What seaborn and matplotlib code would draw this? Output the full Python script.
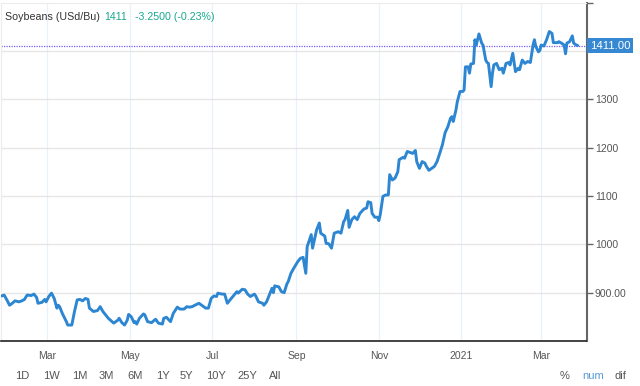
import matplotlib
matplotlib.use('Agg')
import matplotlib.dates as mdates
import matplotlib.pyplot as plt
import matplotlib.transforms as mtransforms
import pandas as pd
import seaborn as sns

# Soybeans daily closes
dates = [
    '2020-01-27', '2020-01-29', '2020-01-31', '2020-02-02', '2020-02-04', '2020-02-06', '2020-02-09', '2020-02-11',
    '2020-02-13', '2020-02-15', '2020-02-18', '2020-02-20', '2020-02-22', '2020-02-23', '2020-02-26', '2020-02-28',
    '2020-02-29', '2020-03-02', '2020-03-04', '2020-03-06', '2020-03-08', '2020-03-09', '2020-03-10', '2020-03-12',
    '2020-03-15', '2020-03-16', '2020-03-19', '2020-03-21', '2020-03-23', '2020-03-25', '2020-03-27', '2020-03-29',
    '2020-03-31', '2020-04-01', '2020-04-04', '2020-04-07', '2020-04-09', '2020-04-11', '2020-04-15', '2020-04-19',
    '2020-04-22', '2020-04-23', '2020-04-25', '2020-04-27', '2020-04-29', '2020-04-30', '2020-05-02', '2020-05-04',
    '2020-05-05', '2020-05-06', '2020-05-08', '2020-05-11', '2020-05-12', '2020-05-14', '2020-05-17', '2020-05-19',
    '2020-05-20', '2020-05-22', '2020-05-25', '2020-05-26', '2020-05-28', '2020-05-31', '2020-06-02', '2020-06-05',
    '2020-06-07', '2020-06-10', '2020-06-12', '2020-06-14', '2020-06-16', '2020-06-18', '2020-06-21', '2020-06-23',
    '2020-06-26', '2020-06-28', '2020-06-30', '2020-07-02', '2020-07-04', '2020-07-05', '2020-07-08', '2020-07-10',
    '2020-07-12', '2020-07-14', '2020-07-17', '2020-07-19', '2020-07-20', '2020-07-23', '2020-07-25', '2020-07-27',
    '2020-07-29', '2020-08-01', '2020-08-02', '2020-08-04', '2020-08-07', '2020-08-08', '2020-08-10', '2020-08-13',
    '2020-08-14', '2020-08-15', '2020-08-16', '2020-08-19', '2020-08-21', '2020-08-23', '2020-08-25', '2020-08-26',
    '2020-08-28', '2020-08-30', '2020-09-02', '2020-09-04', '2020-09-06', '2020-09-08', '2020-09-09', '2020-09-12',
    '2020-09-13', '2020-09-16', '2020-09-18', '2020-09-19', '2020-09-22', '2020-09-23', '2020-09-25', '2020-09-27',
    '2020-09-29', '2020-10-02', '2020-10-04', '2020-10-06', '2020-10-07', '2020-10-09', '2020-10-10', '2020-10-12',
    '2020-10-14', '2020-10-16', '2020-10-18', '2020-10-21', '2020-10-23', '2020-10-24', '2020-10-26', '2020-10-27',
    '2020-10-29', '2020-10-31', '2020-11-01', '2020-11-02', '2020-11-04', '2020-11-06', '2020-11-08', '2020-11-09',
    '2020-11-11', '2020-11-13', '2020-11-15', '2020-11-16', '2020-11-19', '2020-11-20', '2020-11-22', '2020-11-24',
    '2020-11-26', '2020-11-28', '2020-11-29', '2020-12-01', '2020-12-03', '2020-12-05', '2020-12-06', '2020-12-08',
    '2020-12-10', '2020-12-12', '2020-12-14', '2020-12-16', '2020-12-18', '2020-12-20', '2020-12-22', '2020-12-24',
    '2020-12-25', '2020-12-26', '2020-12-28', '2020-12-29', '2020-12-31', '2021-01-02', '2021-01-03', '2021-01-04',
    '2021-01-06', '2021-01-07', '2021-01-08', '2021-01-10', '2021-01-11', '2021-01-12', '2021-01-14', '2021-01-16',
    '2021-01-17', '2021-01-19', '2021-01-20', '2021-01-21', '2021-01-23', '2021-01-24', '2021-01-25', '2021-01-27',
    '2021-01-29', '2021-01-31', '2021-02-01', '2021-02-03', '2021-02-05', '2021-02-06', '2021-02-08', '2021-02-10',
    '2021-02-12', '2021-02-13', '2021-02-15', '2021-02-17', '2021-02-19', '2021-02-21', '2021-02-23', '2021-02-24',
    '2021-02-25', '2021-02-27', '2021-02-28', '2021-03-01', '2021-03-03', '2021-03-05', '2021-03-07', '2021-03-09',
    '2021-03-10', '2021-03-13', '2021-03-14', '2021-03-16', '2021-03-18', '2021-03-19', '2021-03-20', '2021-03-22',
    '2021-03-24', '2021-03-25', '2021-03-27', '2021-03-28',
]
prices = [
    893, 895, 885, 874, 878, 883, 881, 883,
    886, 895, 894, 897, 890, 878, 880, 886,
    881, 892, 899, 888, 868, 874, 871, 857,
    840, 833, 833, 861, 885, 886, 883, 888,
    886, 868, 861, 863, 871, 861, 847, 837,
    843, 847, 838, 833, 843, 855, 850, 838,
    840, 835, 847, 856, 854, 840, 838, 843,
    845, 837, 835, 847, 849, 840, 857, 870,
    866, 866, 871, 870, 871, 874, 878, 874,
    868, 868, 888, 893, 892, 899, 897, 897,
    878, 885, 895, 902, 899, 907, 906, 897,
    892, 897, 893, 881, 878, 874, 881, 902,
    909, 900, 914, 912, 902, 900, 918, 923,
    940, 950, 964, 971, 973, 940, 995, 1020,
    992, 1030, 1044, 1023, 1017, 1002, 1001, 992,
    1023, 1026, 1023, 1047, 1051, 1070, 1035, 1051,
    1057, 1051, 1064, 1073, 1075, 1088, 1086, 1064,
    1056, 1056, 1049, 1061, 1099, 1102, 1102, 1144,
    1133, 1137, 1150, 1175, 1180, 1178, 1192, 1190,
    1188, 1194, 1171, 1157, 1171, 1168, 1162, 1153,
    1157, 1161, 1171, 1188, 1206, 1231, 1243, 1261,
    1264, 1254, 1278, 1295, 1316, 1316, 1319, 1367,
    1367, 1354, 1373, 1374, 1423, 1412, 1435, 1416,
    1412, 1381, 1376, 1374, 1326, 1354, 1371, 1374,
    1361, 1364, 1354, 1374, 1376, 1371, 1395, 1357,
    1364, 1361, 1381, 1374, 1378, 1376, 1412, 1423,
    1409, 1398, 1401, 1412, 1410, 1423, 1440, 1436,
    1417, 1417, 1419, 1416, 1412, 1394, 1416, 1419,
    1431, 1416, 1412, 1411,
]

y_ticks = [900, 1000, 1100, 1200, 1300, 1400]
# the 1400 label sits behind the last-price badge
y_tick_labels = ['900.00', '1000', '1100', '1200', '1300', '']
last_price = 1411
title = 'Soybeans (USd/Bu)'
last_text = '1411'
change_text = '-3.2500 (-0.23%)'
range_buttons = ['1D', '1W', '1M', '3M', '6M', '1Y', '5Y', '10Y', '25Y', 'All']
button_x = [22.7, 51.7, 80, 106.7, 135, 162.7, 186.7, 216, 247.3, 275]

df = pd.DataFrame({'date': pd.to_datetime(dates), 'price': prices})

sns.set_theme(style='white')
plt.rcParams['font.family'] = ['Liberation Sans', 'DejaVu Sans']

W, H = 640, 386
fig = plt.figure(figsize=(W / 100, H / 100), dpi=100)
ax = fig.add_axes([1 / W, 45 / H, 585.5 / W, 338 / H])

sns.lineplot(data=df, x='date', y='price', ax=ax, color='#2d86d2', linewidth=2.1, zorder=3)

ax.set_xlim(pd.Timestamp('2020-01-26 16:00'), pd.Timestamp('2021-04-03 12:00'))
ax.set_ylim(800, 1499)
ax.set_xlabel('')
ax.set_ylabel('')

# x axis: every other month, year shown in January
ax.xaxis.set_major_locator(mdates.MonthLocator(bymonth=[1, 3, 5, 7, 9, 11]))


def month_fmt(x, pos=None):
    d = mdates.num2date(x)
    return str(d.year) if d.month == 1 else d.strftime('%b')


ax.xaxis.set_major_formatter(plt.FuncFormatter(month_fmt))
ax.tick_params(axis='x', length=0, pad=7, labelsize=7.5, labelcolor='#555555')

# y axis on the right
ax.yaxis.tick_right()
ax.set_yticks(y_ticks)
ax.set_yticklabels(y_tick_labels)
ax.set_yticks([1499], minor=True)
ax.tick_params(axis='y', which='both', length=4, width=1, color='#666666', pad=2,
               labelsize=7.5, labelcolor='#555555')

ax.grid(axis='y', color='#e6e6e6', linewidth=1)
ax.grid(axis='x', color='#e9f1f9', linewidth=0.9)

for side in ['left', 'top']:
    ax.spines[side].set_color('#ececec')
    ax.spines[side].set_linewidth(0.8)
ax.spines['right'].set_color('#666666')
ax.spines['right'].set_linewidth(1.5)
ax.spines['bottom'].set_color('#222222')
ax.spines['bottom'].set_linewidth(1.2)

# last price marker line and label
ax.axhline(last_price, color='#7a5cf0', linestyle=(0, (1, 1)), linewidth=0.9, zorder=2)
trans = mtransforms.blended_transform_factory(ax.transAxes, ax.transData)
ax.annotate(f'{last_price:.2f}', xy=(1.0, last_price), xycoords=trans,
            xytext=(2.3, 0), textcoords='offset points', ha='left', va='center',
            fontsize=8.2, color='white', annotation_clip=False, zorder=5,
            bbox=dict(boxstyle='square,pad=0.22', fc='#3688d2', ec='none'))

# header
fig.text(5 / W, 1 - 17.5 / H, title, fontsize=7.7, color='#333333', va='center', ha='left')
fig.text(104 / W, 1 - 17.5 / H, last_text, fontsize=7.7, color='#17a98f', va='center', ha='left')
fig.text(135 / W, 1 - 17.5 / H, change_text, fontsize=7.7, color='#17a98f', va='center', ha='left')

# range buttons and mode switches
for label, bx in zip(range_buttons, button_x):
    fig.text(bx / W, 1 - 376 / H, label, fontsize=8, color='#555555', ha='center', va='center')
fig.text(565 / W, 1 - 376 / H, '%', fontsize=8, color='#555555', ha='center', va='center')
fig.text(593 / W, 1 - 376 / H, 'num', fontsize=8, color='#5a9ad6', ha='center', va='center')
fig.text(620 / W, 1 - 376 / H, 'dif', fontsize=8, color='#555555', ha='center', va='center')

fig.savefig('out.png', dpi=100)
